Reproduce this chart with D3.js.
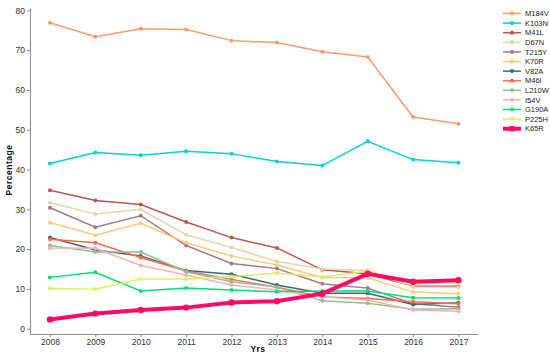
<!DOCTYPE html>
<html>
<head>
<meta charset="utf-8">
<script src="https://cdn.jsdelivr.net/npm/d3@7"></script>
<style>
  body { margin: 0; background: #fff; }
  svg { display: block; font-family: "Liberation Sans", Arial, sans-serif; }
  .axis path, .axis line { stroke: #8c8c8c; }
  .axis text { fill: #333; font-size: 8.5px; }
</style>
</head>
<body>
<div id="chart"></div>
<script>
// years on the x axis
const years = [2008, 2009, 2010, 2011, 2012, 2013, 2014, 2015, 2016, 2017];

// one array per mutation, percentages
const M184V = [76.9, 73.4, 75.4, 75.2, 72.4, 71.9, 69.6, 68.3, 53.2, 51.5];
const K103N = [41.5, 44.3, 43.6, 44.6, 44.0, 42.0, 41.0, 47.1, 42.5, 41.7];
const M41L  = [34.8, 32.2, 31.2, 26.8, 22.9, 20.3, 14.8, 13.8, 10.7, 10.7];
const D67N  = [31.7, 28.8, 30.0, 23.6, 20.4, 16.9, 15.0, 14.6, 10.5, 10.4];
const T215Y = [30.4, 25.5, 28.4, 20.9, 16.4, 15.1, 11.3, 10.2, 6.3, 5.4];
const K70R  = [26.7, 23.5, 26.5, 21.6, 18.3, 16.0, 12.9, 12.8, 9.2, 8.8];
const V82A  = [22.9, 19.8, 18.3, 14.6, 13.7, 11.0, 8.9, 8.9, 6.1, 6.5];
const M46I  = [22.5, 21.6, 17.9, 14.5, 12.4, 10.4, 8.0, 7.6, 6.8, 6.3];
const L210W = [20.9, 19.3, 19.3, 14.3, 11.8, 10.5, 7.0, 6.4, 4.9, 5.0];
const I54V  = [20.3, 20.2, 15.9, 13.5, 11.0, 9.7, 8.0, 7.2, 4.7, 4.4];
const G190A = [12.9, 14.2, 9.5, 10.2, 9.7, 9.3, 9.5, 9.5, 7.8, 7.7];
const P225H = [10.1, 9.9, 12.5, 12.5, 13.1, 14.0, 13.0, 14.5, 11.3, 11.5];
const K65R  = [2.3, 3.8, 4.7, 5.3, 6.6, 6.9, 8.8, 13.8, 11.8, 12.2];

const seriesNames = ["M184V", "K103N", "M41L", "D67N", "T215Y", "K70R", "V82A",
                     "M46I", "L210W", "I54V", "G190A", "P225H", "K65R"];
const seriesValues = [M184V, K103N, M41L, D67N, T215Y, K70R, V82A,
                      M46I, L210W, I54V, G190A, P225H, K65R];
const seriesColors = ["#f99b6b", "#00d2d6", "#c2544c", "#dcd8aa", "#a07b8c", "#fdc878", "#3e6775",
                      "#ff6a47", "#8fbe97", "#f4b3b3", "#00e070", "#dfee5c", "#ff0a66"];

const yTicks = [0, 10, 20, 30, 40, 50, 60, 70, 80];

const width = 550, height = 357;

const svg = d3.select("#chart").append("svg")
    .attr("width", width)
    .attr("height", height);

const x = d3.scaleLinear()
    .domain([2007.56, 2017.43])
    .range([30, 478]);

const y = d3.scaleLinear()
    .domain([-1.33, 80.6])
    .range([334, 8]);

// axes
const xAxis = svg.append("g")
    .attr("class", "axis")
    .attr("transform", "translate(0,334)")
    .call(d3.axisBottom(x).tickValues(years).tickFormat(d3.format("d")).tickSizeInner(3).tickSizeOuter(0).tickPadding(2));

const yAxis = svg.append("g")
    .attr("class", "axis")
    .attr("transform", "translate(30,0)")
    .call(d3.axisLeft(y).tickValues(yTicks).tickSizeInner(3).tickSizeOuter(0).tickPadding(2));

svg.append("text")
    .attr("transform", "translate(12,170) rotate(-90)")
    .attr("text-anchor", "middle")
    .attr("font-size", "8.5px")
    .attr("font-weight", "bold")
    .attr("fill", "#111")
    .attr("letter-spacing", "0.5px")
    .text("Percentage");

svg.append("text")
    .attr("x", 258)
    .attr("y", 352)
    .attr("text-anchor", "middle")
    .attr("font-size", "8.5px")
    .attr("font-weight", "bold")
    .attr("fill", "#111")
    .attr("letter-spacing", "0.5px")
    .text("Yrs");

// lines
const line = d3.line()
    .x((d, i) => x(years[i]))
    .y(d => y(d));

const groups = svg.append("g").selectAll(".series")
    .data(seriesNames.map((name, k) => ({ name, values: seriesValues[k], color: seriesColors[k] })))
    .join("g")
    .attr("class", "series");

groups.append("path")
    .attr("fill", "none")
    .attr("stroke", d => d.color)
    .attr("stroke-width", d => d.name === "K65R" ? 4 : 1.5)
    .attr("d", d => line(d.values));

groups.selectAll("circle")
    .data(d => d.values.map((v, i) => ({ v, i, color: d.color, big: d.name === "K65R" })))
    .join("circle")
    .attr("cx", d => x(years[d.i]))
    .attr("cy", d => y(d.v))
    .attr("r", d => d.big ? 3.2 : 2)
    .attr("fill", d => d.color);

// legend
const legend = svg.append("g")
    .attr("transform", "translate(503,13.5)")
    .selectAll("g")
    .data(seriesNames)
    .join("g")
    .attr("transform", (d, i) => `translate(0,${i * 9.6})`);

legend.append("line")
    .attr("x1", 0).attr("x2", 18)
    .attr("stroke", (d, i) => seriesColors[i])
    .attr("stroke-width", d => d === "K65R" ? 4 : 1.5);

legend.append("circle")
    .attr("cx", 9)
    .attr("r", d => d === "K65R" ? 3 : 2)
    .attr("fill", (d, i) => seriesColors[i]);

legend.append("text")
    .attr("x", 22)
    .attr("dy", "0.35em")
    .attr("font-size", "7.5px")
    .attr("fill", "#222")
    .text(d => d);
</script>
</body>
</html>
